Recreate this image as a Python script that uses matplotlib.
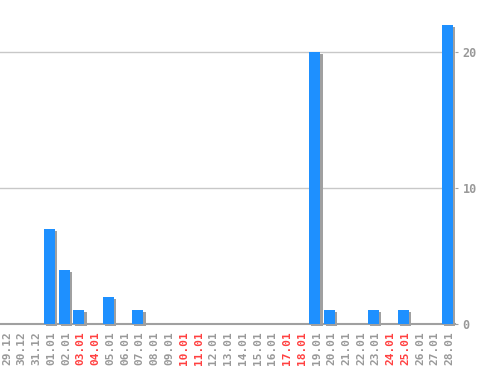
import matplotlib.pyplot as plt
import matplotlib.patheffects as pe

days = ["29.12", "30.12", "31.12", "01.01", "02.01", "03.01", "04.01", "05.01",
        "06.01", "07.01", "08.01", "09.01", "10.01", "11.01", "12.01", "13.01",
        "14.01", "15.01", "16.01", "17.01", "18.01", "19.01", "20.01", "21.01",
        "22.01", "23.01", "24.01", "25.01", "26.01", "27.01", "28.01"]
counts = [0, 0, 0, 7, 4, 1, 0, 2, 0, 1, 0, 0, 0, 0, 0, 0,
          0, 0, 0, 0, 0, 20, 1, 0, 0, 1, 0, 1, 0, 0, 22]
weekend = ["03.01", "04.01", "10.01", "11.01", "17.01", "18.01", "24.01", "25.01"]
yticks = [0, 10, 20]

fig = plt.figure(figsize=(4.98, 3.70), dpi=100)
ax = fig.add_axes([0, 46 / 370, 455 / 498, 324 / 370])

x = range(len(days))
bars = ax.bar(x, counts, width=0.75, color="#1e90ff", zorder=3, clip_on=False)
for b in bars:
    b.set_path_effects([pe.SimplePatchShadow(offset=(1.5, -1.5), shadow_rgbFace="#a0a0a0", alpha=1),
                        pe.Normal()])

ax.set_xlim(-0.35, 30.5)
ax.set_ylim(0, 23.8)

for y in yticks[1:]:
    ax.axhline(y, color="#c8c8c8", lw=1, zorder=1)
ax.axhline(0, color="#a0a0a0", lw=1.5, zorder=2, clip_on=False)

for s in ax.spines.values():
    s.set_visible(False)

ax.yaxis.tick_right()
ax.set_yticks(yticks)
ax.tick_params(axis="y", length=2.5, color="#a0a0a0", pad=3, labelcolor="#999999", labelsize=8.5)
for t in ax.get_yticklabels():
    t.set_family("DejaVu Sans Mono")
    t.set_weight("bold")

ax.set_xticks([i + 0.12 for i in x])
ax.set_xticklabels(days, rotation=90, family="DejaVu Sans Mono", fontsize=8, fontweight="bold")
ax.tick_params(axis="x", length=0, pad=5)
for t in ax.get_xticklabels():
    t.set_color("#ff4040" if t.get_text() in weekend else "#999999")

fig.savefig("out.png", dpi=100, facecolor="white")
